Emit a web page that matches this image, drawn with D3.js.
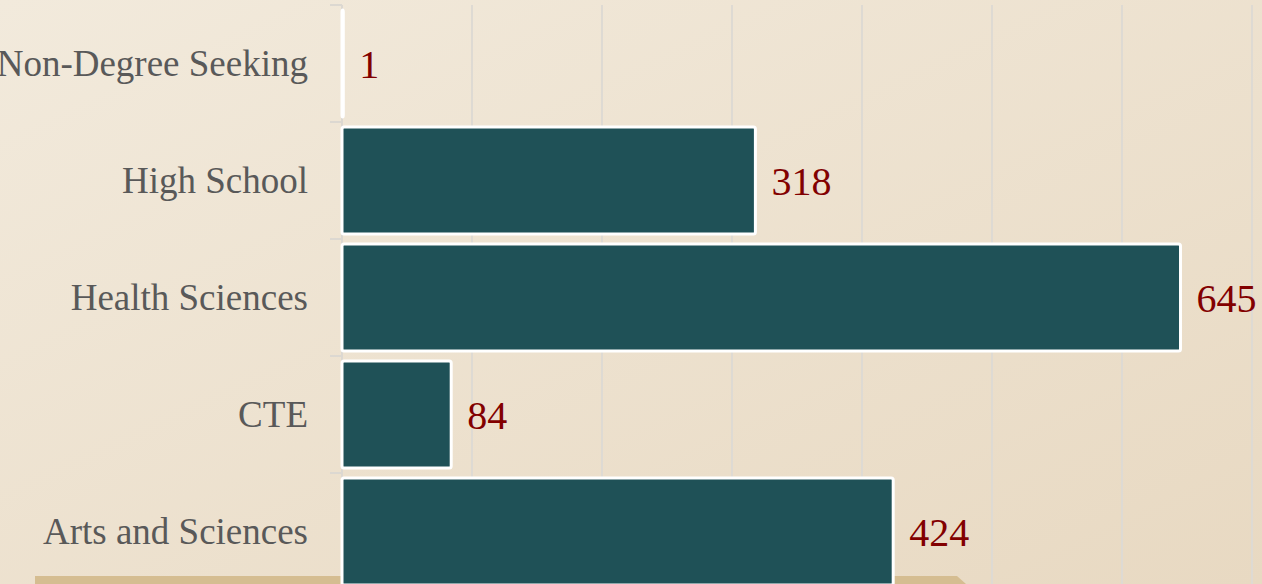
<!DOCTYPE html>
<html>
<head>
<meta charset="utf-8">
<script src="https://cdn.jsdelivr.net/npm/d3@7"></script>
<style>
  html, body { margin: 0; padding: 0; overflow: hidden; }
  svg { display: block; }
</style>
</head>
<body>
<svg id="chart" width="1262" height="584"></svg>
<script>
// data
const categories = ["Non-Degree Seeking", "High School", "Health Sciences", "CTE", "Arts and Sciences"];
const values = [1, 318, 645, 84, 424];
const gridTicks = [0, 100, 200, 300, 400, 500, 600, 700];

const svg = d3.select("#chart"),
    width = +svg.attr("width"),
    height = +svg.attr("height");

const margin = { top: 5, left: 342, right: 10 };

// background gradient
const defs = svg.append("defs");
const grad = defs.append("linearGradient")
    .attr("id", "bg")
    .attr("x1", "0%").attr("y1", "0%")
    .attr("x2", "100%").attr("y2", "100%");
grad.append("stop").attr("offset", "0%").attr("stop-color", "#f2eadc");
grad.append("stop").attr("offset", "100%").attr("stop-color", "#e8d9c2");

svg.append("rect")
    .attr("width", width).attr("height", height)
    .attr("fill", "url(#bg)");

const x = d3.scaleLinear()
    .domain([0, 700])
    .range([margin.left, width - margin.right]);

const y = d3.scaleBand()
    .domain(categories)
    .range([margin.top, margin.top + 117 * categories.length])
    .paddingInner(0.085)
    .paddingOuter(0.043);

const bandTop = d3.scaleBand()
    .domain(categories)
    .range([margin.top, margin.top + 117 * categories.length]);

// tan base strip at the bottom
svg.append("path")
    .attr("d", `M35,576 L957,576 L966,584 L35,584 Z`)
    .attr("fill", "#d5bd91");

// vertical grid lines
svg.append("g")
    .attr("class", "grid")
    .selectAll("line")
    .data(gridTicks.slice(1))
    .enter().append("line")
    .attr("x1", d => x(d)).attr("x2", d => x(d))
    .attr("y1", margin.top).attr("y2", height)
    .style("stroke", "#dedad3")
    .style("stroke-width", 2);

// category axis line + tick marks at band boundaries
svg.append("line")
    .attr("x1", x(0)).attr("x2", x(0))
    .attr("y1", margin.top).attr("y2", height)
    .style("stroke", "#dcd8d1")
    .style("stroke-width", 2);

svg.append("g")
    .selectAll("line")
    .data(categories)
    .enter().append("line")
    .attr("x1", x(0) - 12).attr("x2", x(0))
    .attr("y1", d => bandTop(d)).attr("y2", d => bandTop(d))
    .style("stroke", "#dcd8d1")
    .style("stroke-width", 2);

// bars
svg.append("g")
    .selectAll("rect")
    .data(values)
    .enter().append("rect")
    .attr("x", x(0))
    .attr("y", (d, i) => y(categories[i]))
    .attr("width", d => x(d) - x(0))
    .attr("height", y.bandwidth())
    .attr("rx", 2)
    .attr("fill", "#1f5157")
    .attr("stroke", "#ffffff")
    .attr("stroke-width", 3);

// category labels
svg.append("g")
    .selectAll("text")
    .data(categories)
    .enter().append("text")
    .attr("x", x(0) - 34)
    .attr("y", d => bandTop(d) + bandTop.bandwidth() / 2)
    .attr("dy", "0.35em")
    .attr("text-anchor", "end")
    .attr("font-family", "'Liberation Serif', 'Times New Roman', serif")
    .attr("font-size", 37)
    .attr("fill", "#595959")
    .text(d => d);

// value labels
svg.append("g")
    .selectAll("text")
    .data(values)
    .enter().append("text")
    .attr("x", d => x(d) + 16)
    .attr("y", (d, i) => bandTop(categories[i]) + bandTop.bandwidth() / 2)
    .attr("dy", "0.35em")
    .attr("font-family", "'Liberation Serif', 'Times New Roman', serif")
    .attr("font-size", 40)
    .attr("fill", "#820000")
    .text(d => d);
</script>
</body>
</html>
